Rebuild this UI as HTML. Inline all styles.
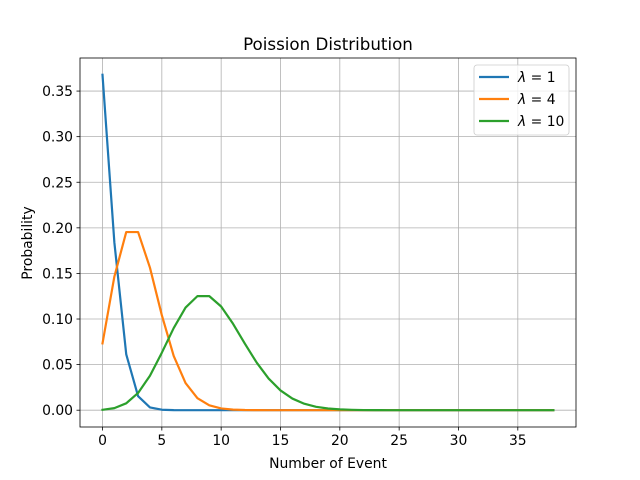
<!DOCTYPE html><html><head><style>body{margin:0;background:#fff}svg{display:block}text{font-family:"DejaVu Sans","Liberation Sans",sans-serif;fill:#000}</style></head><body>
<svg id="s" width="640" height="480" xmlns="http://www.w3.org/2000/svg">
<rect width="640" height="480" fill="#fff"/>
<g id="grid" stroke="#b0b0b0" stroke-width="0.8"></g>
<g id="lines" fill="none" stroke-width="2.2" stroke-linejoin="round" stroke-linecap="square"></g>
<rect x="80" y="58" width="496" height="369" fill="none" stroke="#000" stroke-width="0.8"/>
<g id="ticks" font-size="13.9"></g>
<text x="328" y="50" font-size="16.7" text-anchor="middle">Poission Distribution</text>
<text x="328" y="468" font-size="13.9" text-anchor="middle">Number of Event</text>
<text x="0" y="0" font-size="13.9" text-anchor="middle" transform="translate(32,243) rotate(-90)">Probability</text>
<rect x="474" y="65" width="95" height="70" rx="3" fill="#fff" fill-opacity="0.8" stroke="#ccc" stroke-width="0.8"/>
<line x1="479" y1="77" x2="509" y2="77" stroke="#1f77b4" stroke-width="2.2"/>
<line x1="479" y1="99" x2="509" y2="99" stroke="#ff7f0e" stroke-width="2.2"/>
<line x1="479" y1="121" x2="509" y2="121" stroke="#2ca02c" stroke-width="2.2"/>
<text x="518" y="82" font-size="13.9"><tspan font-style="italic">λ</tspan> = 1</text>
<text x="518" y="104" font-size="13.9"><tspan font-style="italic">λ</tspan> = 4</text>
<text x="518" y="126" font-size="13.9"><tspan font-style="italic">λ</tspan> = 10</text>
</svg>
<script>
var X=function(v){return 102.5+v*11.866},Y=function(v){return 410.2-v*911.8};
var g=document.getElementById('grid'),t=document.getElementById('ticks'),l=document.getElementById('lines'),ns='http://www.w3.org/2000/svg';
function el(p,n,a,tx){var e=document.createElementNS(ns,n);for(var k in a)e.setAttribute(k,a[k]);if(tx!=null)e.textContent=tx;p.appendChild(e);}
for(var i=0;i<=35;i+=5){var x=X(i);el(g,'line',{x1:x,x2:x,y1:58,y2:427});el(t,'line',{x1:x,x2:x,y1:427,y2:430.5,stroke:'#000','stroke-width':0.8});el(t,'text',{x:x,y:445,'text-anchor':'middle'},i);}
for(var j=0;j<=7;j++){var v=j*0.05,y=Y(v);el(g,'line',{x1:80,x2:576,y1:y,y2:y});el(t,'line',{x1:76.5,x2:80,y1:y,y2:y,stroke:'#000','stroke-width':0.8});el(t,'text',{x:73,y:y+5,'text-anchor':'end'},v.toFixed(2));}
[[1,'#1f77b4'],[4,'#ff7f0e'],[10,'#2ca02c']].forEach(function(a){var lam=a[0],p=Math.exp(-lam),pts=[];for(var k=1;k<=39;k++){p*=lam/k;pts.push(X(k-1).toFixed(2)+','+Y(p).toFixed(2));}el(l,'polyline',{points:pts.join(' '),stroke:a[1]});});
</script>
</body></html>
